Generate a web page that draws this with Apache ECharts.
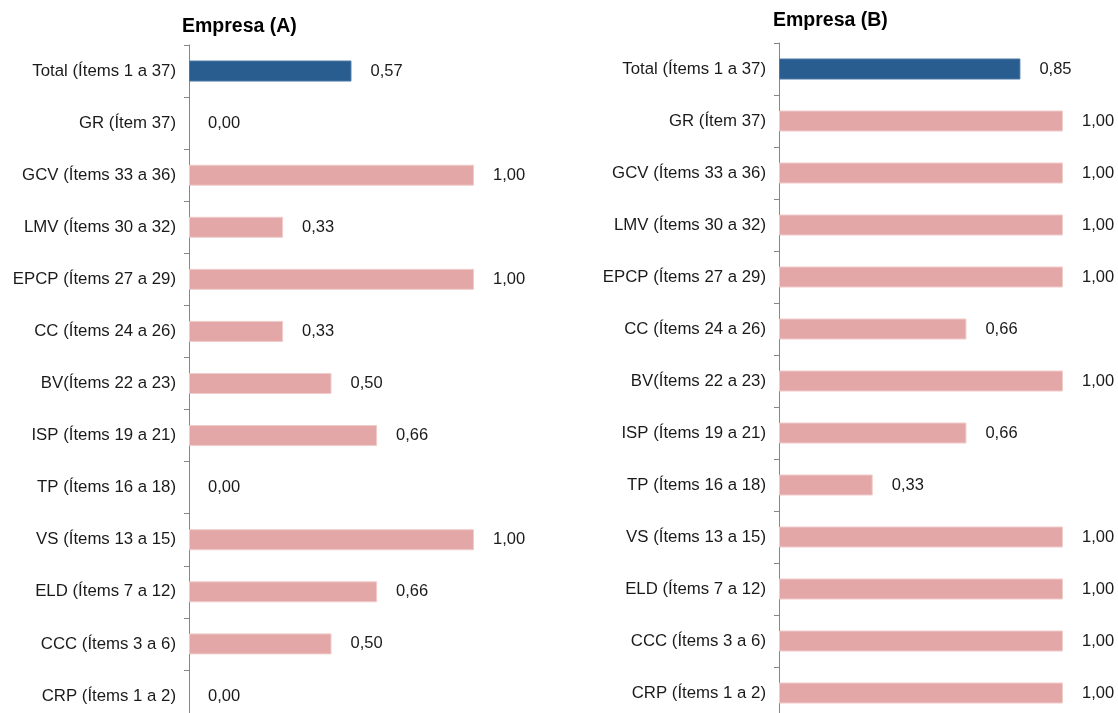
<!DOCTYPE html>
<html><head><meta charset="utf-8">
<script src="https://cdn.jsdelivr.net/npm/echarts@6/dist/echarts.min.js"></script>
<style>html,body{margin:0;padding:0;background:#fff;overflow:hidden}#c{width:1118px;height:760px}</style>
</head><body><div id="c"></div>
<script>
const categories = ["Total (Ítems 1 a 37)","GR (Ítem 37)","GCV (Ítems 33 a 36)","LMV (Ítems 30 a 32)","EPCP (Ítems 27 a 29)","CC (Ítems 24 a 26)","BV(Ítems 22 a 23)","ISP (Ítems 19 a 21)","TP (Ítems 16 a 18)","VS (Ítems 13 a 15)","ELD (Ítems 7 a 12)","CCC (Ítems 3 a 6)","CRP (Ítems 1 a 2)"];
const valuesA = [0.57,0.00,1.00,0.33,1.00,0.33,0.50,0.66,0.00,1.00,0.66,0.50,0.00];
const valuesB = [0.85,1.00,1.00,1.00,1.00,0.66,1.00,0.66,0.33,1.00,1.00,1.00,1.00];
const titles = ["Empresa (A)","Empresa (B)"];

const FONT = "Liberation Sans, Arial, sans-serif";
const BLUE = "#2a5d8f", PINK = "#e2a7a6";
function fmt(v){ return v.toFixed(2).replace('.', ','); }
function mkData(vals){
  return vals.map((v,i)=>({value:v, itemStyle: i===0 ? {color:BLUE, borderColor:'#4a78a6', borderWidth:1}
    : {color:PINK, borderColor:'#f0cccb', borderWidth: v>0 ? 1 : 0}}));
}
const grids = [
  {left:189, top:45, width:285, height:677},
  {left:779, top:43, width:284, height:676}
];
const chart = echarts.init(document.getElementById('c'), null, {renderer:'canvas'});
chart.setOption({
  animation:false,
  title: [
    {text:titles[0], left:182, top:16.5, padding:0, textStyle:{fontFamily:FONT, fontWeight:'bold', fontSize:19.5, lineHeight:20, color:'#000'}},
    {text:titles[1], left:773, top:11, padding:0, textStyle:{fontFamily:FONT, fontWeight:'bold', fontSize:19.5, lineHeight:20, color:'#000'}}
  ],
  grid: grids,
  xAxis: [0,1].map(i=>({type:'value', gridIndex:i, min:0, max:1, show:false})),
  yAxis: [0,1].map(i=>({
    type:'category', gridIndex:i, data:categories, inverse:true,
    axisLine:{show:true, lineStyle:{color:'#868686', width:1}},
    axisTick:{show:true, length:5, lineStyle:{color:'#868686'}},
    axisLabel:{fontFamily:FONT, fontSize:16.8, color:'#1a1a1a', margin:13},
    splitLine:{show:false}
  })),
  series: [valuesA, valuesB].map((vals,i)=>({
    type:'bar', xAxisIndex:i, yAxisIndex:i, data:mkData(vals), barWidth:21,
    label:{show:true, position:'right', distance:19, formatter:p=>fmt(p.value), fontFamily:FONT, fontSize:16.5, color:'#1a1a1a'}
  }))
});
</script></body></html>
